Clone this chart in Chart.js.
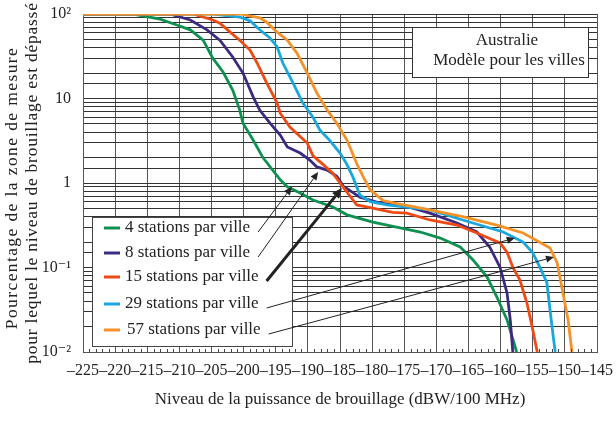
<!DOCTYPE html>
<html>
<head>
<meta charset="utf-8">
<script src="https://cdn.jsdelivr.net/npm/chart.js@4/dist/chart.umd.min.js"></script>
<style>
  html, body { margin: 0; padding: 0; background: #fff; }
  #wrap { width: 616px; height: 421px; }
</style>
</head>
<body>
<div id="wrap"><canvas id="c" width="616" height="421"></canvas></div>
<script>
// Interference level (dBW/100 MHz) and percentage of area exceeded, per station density
const levels4  = [-225, -217.2, -213.0, -210.4, -208.3, -206.3, -204.8, -203.2, -201.7, -200.6, -200.1, -198.5, -197.0, -194.3, -193.2, -191.2, -189.2, -186.1, -183.9, -179.9, -172.5, -169.4, -166.3, -164.3, -162.1, -160.6, -159.0, -157.5];
const pct4     = [100, 100, 87, 74, 65, 49, 30, 20.6, 12.6, 7.3, 5.1, 3.2, 2.0, 1.09, 0.90, 0.76, 0.63, 0.52, 0.42, 0.345, 0.263, 0.223, 0.175, 0.123, 0.077, 0.045, 0.024, 0.01];

const levels8  = [-225, -211.5, -208.3, -205.7, -203.7, -201.7, -200.1, -198.5, -197.5, -195.9, -194.3, -193.2, -191.2, -189.7, -188.6, -187.0, -185.5, -184.5, -181.9, -178.8, -174.6, -171.0, -166.8, -163.7, -161.7, -160.1, -159.0, -158.5, -158.1];
const pct8     = [100, 100, 85, 65, 49, 31, 20, 10.4, 7.3, 5.1, 3.7, 2.67, 2.26, 1.87, 1.55, 1.42, 1.2, 0.92, 0.68, 0.58, 0.53, 0.44, 0.336, 0.263, 0.175, 0.101, 0.050, 0.024, 0.01];

const levels15 = [-225, -207.9, -204.8, -203.7, -202.1, -200.6, -199.0, -197.9, -196.4, -194.8, -194.3, -192.8, -190.1, -189.2, -187.6, -186.1, -185.0, -182.4, -180.3, -176.8, -174.6, -171.0, -166.8, -163.7, -160.1, -159.0, -158.1, -157.0, -155.9, -155.1, -154.3];
const pct15    = [100, 100, 85, 78, 61, 49, 37.5, 26.3, 15.2, 8.9, 6.7, 4.6, 2.97, 2.1, 1.65, 1.3, 1.0, 0.55, 0.51, 0.45, 0.44, 0.365, 0.318, 0.256, 0.195, 0.152, 0.101, 0.071, 0.038, 0.020, 0.01];

const levels29 = [-225, -204.8, -200.6, -199.0, -197.5, -195.9, -194.8, -193.9, -192.3, -190.8, -189.2, -188.1, -186.6, -185.0, -184.0, -183.0, -181.9, -180.3, -177.7, -171.0, -165.9, -159.6, -156.5, -155.0, -153.9, -152.8, -152.3, -151.8, -151.5];
const pct29    = [100, 100, 92, 83, 65, 52, 41, 26.3, 15.2, 8.9, 6.0, 4.2, 3.2, 2.26, 1.7, 1.18, 0.72, 0.60, 0.55, 0.48, 0.365, 0.263, 0.20, 0.149, 0.101, 0.066, 0.031, 0.015, 0.01];

const levels57 = [-225, -200.6, -197.5, -196.4, -194.8, -193.2, -191.7, -190.1, -188.6, -187.0, -185.5, -183.9, -182.4, -181.3, -180.3, -178.3, -176.1, -171.0, -165.9, -160.6, -156.5, -152.3, -151.2, -150.3, -149.5, -148.9];
const pct57    = [100, 100, 90, 80, 61, 49, 34.5, 20, 11.6, 7.3, 5.1, 3.2, 1.7, 1.15, 0.83, 0.62, 0.57, 0.48, 0.40, 0.318, 0.256, 0.17, 0.113, 0.050, 0.024, 0.01];

const seriesNames = ['4 stations par ville', '8 stations par ville', '15 stations par ville', '29 stations par ville', '57 stations par ville'];
const seriesColors = ['#0e9150', '#3b2a80', '#ef4a14', '#1aa7dd', '#f4922a'];

// Where each legend pointer lands on its curve (level dBW, percentage)
const pointerLevels = [-192.5, -188.4, -184.7, -157.8, -151.7];
const pointerPct    = [0.90, 1.35, 0.87, 0.223, 0.133];

const xTickValues = [-225, -145];
const yTickLabels = { '2': '10²', '1': '10', '0': '1', '-1': '10⁻¹', '-2': '10⁻²' };
const yTitleLines = ['Pourcentage de la zone de mesure', 'pour lequel le niveau de brouillage est dépassé'];
const infoLines = ['Australie', 'Modèle pour les villes'];

const SERIF = '"Liberation Serif", "DejaVu Serif", serif';

const seriesData = [
  [levels4, pct4], [levels8, pct8], [levels15, pct15], [levels29, pct29], [levels57, pct57]
];
const datasets = seriesData.map(([xs, ys], i) => ({
  label: seriesNames[i],
  data: xs.map((x, k) => ({ x: x, y: ys[k] })),
  borderColor: seriesColors[i],
  backgroundColor: seriesColors[i],
  borderWidth: 2.8,
  pointRadius: 0,
  tension: 0,
  fill: false
}));
// draw the densest series last so it sits on top
datasets.reverse();

function arrow(ctx, x1, y1, x2, y2, width, head) {
  const ang = Math.atan2(y2 - y1, x2 - x1);
  const bx = x2 - head * Math.cos(ang), by = y2 - head * Math.sin(ang);
  ctx.save();
  ctx.strokeStyle = '#222';
  ctx.fillStyle = '#222';
  ctx.lineWidth = width;
  ctx.beginPath();
  ctx.moveTo(x1, y1);
  ctx.lineTo(bx, by);
  ctx.stroke();
  const hw = head * 0.45;
  ctx.beginPath();
  ctx.moveTo(x2, y2);
  ctx.lineTo(bx + hw * Math.sin(ang), by - hw * Math.cos(ang));
  ctx.lineTo(bx - hw * Math.sin(ang), by + hw * Math.cos(ang));
  ctx.closePath();
  ctx.fill();
  ctx.restore();
}

const overlay = {
  id: 'overlay',
  afterDraw(chart) {
    // two-line vertical axis title, loosely tracked
    const { ctx, chartArea: a } = chart;
    const cy = (a.top + a.bottom) / 2;
    ctx.save();
    ctx.fillStyle = '#222';
    ctx.font = '17.5px ' + SERIF;
    ctx.textAlign = 'center';
    ctx.textBaseline = 'middle';
    [[12, cy + 5, '1.4px'], [32, cy, '0.75px']].forEach(([tx, ty, sp], i) => {
      ctx.save();
      ctx.letterSpacing = sp;
      ctx.translate(tx, ty);
      ctx.rotate(-Math.PI / 2);
      ctx.fillText(yTitleLines[i], 0, 0);
      ctx.restore();
    });
    ctx.restore();
  },
  afterDatasetsDraw(chart) {
    const { ctx, chartArea: a, scales: { x, y } } = chart;

    // small 1 dB marks along the bottom edge
    ctx.save();
    ctx.strokeStyle = '#444';
    ctx.lineWidth = 1;
    for (let v = -224; v < -145; v++) {
      if (v % 5 === 0) continue;
      const px = Math.round(x.getPixelForValue(v)) + 0.5;
      ctx.beginPath();
      ctx.moveTo(px, a.bottom);
      ctx.lineTo(px, a.bottom - 3);
      ctx.stroke();
    }
    ctx.restore();

    // info box, top right
    const bx = a.left + 329, by = a.top + 13, bw = 176, bh = 50;
    ctx.save();
    ctx.fillStyle = '#fff';
    ctx.fillRect(bx, by, bw, bh);
    ctx.strokeStyle = '#333';
    ctx.lineWidth = 1;
    ctx.strokeRect(bx + 0.5, by + 0.5, bw, bh);
    ctx.fillStyle = '#222';
    ctx.font = '17px ' + SERIF;
    ctx.textAlign = 'center';
    ctx.textBaseline = 'middle';
    ctx.fillText(infoLines[0], bx + 95, by + 14);
    ctx.fillText(infoLines[1], bx + 97, by + 34);
    ctx.restore();

    // legend box, lower left
    const lx = a.left + 9, ly = a.top + 203, lw = 200, lh = 129;
    ctx.save();
    ctx.fillStyle = '#fff';
    ctx.fillRect(lx, ly, lw, lh);
    ctx.strokeStyle = '#444';
    ctx.lineWidth = 1;
    ctx.strokeRect(lx + 0.5, ly + 0.5, lw, lh);
    ctx.font = '17px ' + SERIF;
    ctx.textBaseline = 'middle';
    ctx.textAlign = 'left';
    const rowY = [11, 36, 60, 87, 113];
    const tails = [];
    seriesNames.forEach((name, i) => {
      const ry = ly + rowY[i];
      ctx.strokeStyle = seriesColors[i];
      ctx.lineWidth = 3;
      ctx.beginPath();
      ctx.moveTo(lx + 12, ry);
      ctx.lineTo(lx + 28, ry);
      ctx.stroke();
      ctx.fillStyle = '#222';
      const tx = lx + (i === 4 ? 35 : 33);
      ctx.fillText(name, tx, ry);
      tails.push([tx + ctx.measureText(name).width + 8, ry + 4]);
    });
    ctx.restore();

    // pointers from legend entries to their curves
    pointerLevels.forEach((lv, i) => {
      const tx = x.getPixelForValue(lv), ty = y.getPixelForValue(pointerPct[i]);
      const [sx, sy] = tails[i];
      if (i === 2) arrow(ctx, sx, sy, tx, ty, 3, 10);
      else arrow(ctx, sx, sy, tx, ty, 1, 8);
    });
  }
};

new Chart(document.getElementById('c'), {
  type: 'line',
  data: { datasets },
  options: {
    responsive: false,
    animation: false,
    devicePixelRatio: 1,
    layout: { padding: { top: 14, right: 19, left: 0, bottom: 0 } },
    plugins: { legend: { display: false }, tooltip: { enabled: false } },
    scales: {
      x: {
        type: 'linear',
        min: xTickValues[0],
        max: xTickValues[1],
        afterFit(s) { s.height = 69; s.paddingLeft = 0; s.paddingRight = 0; },
        ticks: {
          stepSize: 5,
          autoSkip: false,
          maxRotation: 0,
          padding: 9,
          color: '#222',
          font: { family: SERIF, size: 16 },
          callback: v => '–' + Math.abs(v)
        },
        grid: { color: '#555', lineWidth: 1, drawTicks: false },
        border: { color: '#555' },
        title: {
          display: true,
          text: 'Niveau de la puissance de brouillage (dBW/100 MHz)',
          color: '#222',
          font: { family: SERIF, size: 17, lineHeight: 1.2 },
          padding: { top: 0, bottom: 11 }
        }
      },
      y: {
        type: 'logarithmic',
        min: 0.01,
        max: 100,
        afterFit(s) { s.width = 83; s.paddingTop = 0; s.paddingBottom = 0; },
        ticks: {
          autoSkip: false,
          padding: 12,
          color: '#222',
          font: { family: SERIF, size: 16 },
          callback: v => {
            const l = Math.log10(v);
            const r = Math.round(l);
            return Math.abs(l - r) < 1e-6 ? yTickLabels[String(r)] : '';
          }
        },
        grid: { color: '#333', lineWidth: 1, drawTicks: false },
        border: { color: '#555' },
        title: { display: false }
      }
    }
  },
  plugins: [overlay]
});
</script>
</body>
</html>
